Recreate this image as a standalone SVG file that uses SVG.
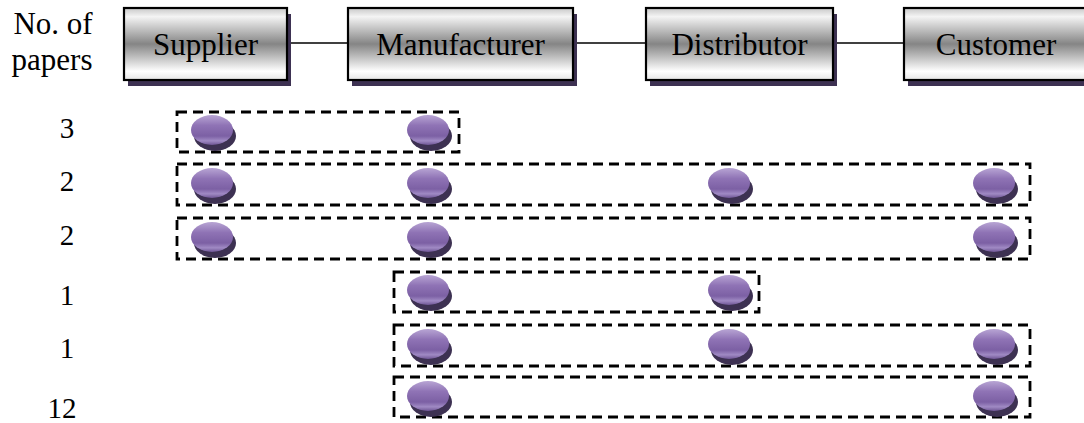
<svg xmlns="http://www.w3.org/2000/svg" xmlns:xlink="http://www.w3.org/1999/xlink" width="1084" height="423" viewBox="0 0 1084 423">
  <style>
    .lbl { font-family: "Liberation Serif", "Times New Roman", serif; fill: #000; }
    .hdr { font-size: 31px; text-anchor: middle; }
    .num { font-size: 29px; text-anchor: middle; }
    .axis { font-size: 31px; text-anchor: middle; }
    .box { fill: url(#boxGrad); stroke: #000; stroke-width: 2.2; }
    .shadow { fill: #3d3152; }
    .grp { fill: none; stroke: #000; stroke-width: 2.8; stroke-dasharray: 10 6; }
    .conn { stroke: #000; stroke-width: 1.6; fill: none; }
  </style>
  <defs>
    <linearGradient id="boxGrad" x1="0" y1="0" x2="0" y2="1">
      <stop offset="0" stop-color="#c8c8c8"/>
      <stop offset="0.12" stop-color="#f4f4f4"/>
      <stop offset="0.5" stop-color="#858585"/>
      <stop offset="0.88" stop-color="#ffffff"/>
      <stop offset="1" stop-color="#e6e6e6"/>
    </linearGradient>
    <linearGradient id="dotGrad" x1="0" y1="0" x2="0" y2="1">
      <stop offset="0" stop-color="#b8a5d4"/>
      <stop offset="0.35" stop-color="#8f73b5"/>
      <stop offset="0.7" stop-color="#7c60a4"/>
      <stop offset="0.86" stop-color="#a08ac4"/>
      <stop offset="1" stop-color="#6e5594"/>
    </linearGradient>
    <g id="dot">
      <ellipse cx="3" cy="6" rx="21" ry="15" fill="#3d3152"/>
      <ellipse cx="0" cy="0" rx="21" ry="15" fill="url(#dotGrad)"/>
    </g>
  </defs>

  <rect width="1084" height="423" fill="#ffffff"/>

  <g id="connectors">
    <line class="conn" x1="287" y1="43" x2="348" y2="43"/>
    <line class="conn" x1="573" y1="43" x2="645" y2="43"/>
    <line class="conn" x1="833" y1="43" x2="904" y2="43"/>
  </g>

  <g id="axis-label">
    <text class="lbl axis" x="53" y="34">No. of</text>
    <text class="lbl axis" x="52" y="70">papers</text>
  </g>

  <g id="supplier">
    <rect class="shadow" x="128" y="14" width="163" height="72"/>
    <rect class="box" x="124" y="8" width="163" height="72"/>
    <text class="lbl hdr" x="205.5" y="55">Supplier</text>
  </g>
  <g id="manufacturer">
    <rect class="shadow" x="352" y="14" width="225" height="72"/>
    <rect class="box" x="348" y="8" width="225" height="72"/>
    <text class="lbl hdr" x="460.5" y="55">Manufacturer</text>
  </g>
  <g id="distributor">
    <rect class="shadow" x="650" y="14" width="187" height="72"/>
    <rect class="box" x="646" y="8" width="187" height="72"/>
    <text class="lbl hdr" x="739.5" y="55">Distributor</text>
  </g>
  <g id="customer">
    <rect class="shadow" x="908" y="14" width="184" height="72"/>
    <rect class="box" x="904" y="8" width="184" height="72"/>
    <text class="lbl hdr" x="996" y="55">Customer</text>
  </g>

  <g id="row1">
    <text class="lbl num" x="67" y="138">3</text>
    <rect class="grp" x="177" y="112" width="282" height="40"/>
    <use xlink:href="#dot" href="#dot" x="212" y="130"/>
    <use xlink:href="#dot" href="#dot" x="428" y="130"/>
  </g>
  <g id="row2">
    <text class="lbl num" x="67" y="191">2</text>
    <rect class="grp" x="177" y="164" width="853" height="41"/>
    <use xlink:href="#dot" href="#dot" x="212" y="183"/>
    <use xlink:href="#dot" href="#dot" x="428" y="183"/>
    <use xlink:href="#dot" href="#dot" x="729" y="183"/>
    <use xlink:href="#dot" href="#dot" x="994" y="183"/>
  </g>
  <g id="row3">
    <text class="lbl num" x="67" y="245">2</text>
    <rect class="grp" x="177" y="218" width="853" height="41"/>
    <use xlink:href="#dot" href="#dot" x="212" y="237"/>
    <use xlink:href="#dot" href="#dot" x="428" y="237"/>
    <use xlink:href="#dot" href="#dot" x="994" y="237"/>
  </g>
  <g id="row4">
    <text class="lbl num" x="67" y="305">1</text>
    <rect class="grp" x="394" y="272" width="365" height="40"/>
    <use xlink:href="#dot" href="#dot" x="428" y="290"/>
    <use xlink:href="#dot" href="#dot" x="729" y="290"/>
  </g>
  <g id="row5">
    <text class="lbl num" x="67" y="358">1</text>
    <rect class="grp" x="394" y="325" width="636" height="41"/>
    <use xlink:href="#dot" href="#dot" x="428" y="344"/>
    <use xlink:href="#dot" href="#dot" x="729" y="344"/>
    <use xlink:href="#dot" href="#dot" x="994" y="344"/>
  </g>
  <g id="row6">
    <text class="lbl num" x="62" y="418">12</text>
    <rect class="grp" x="394" y="377" width="636" height="40"/>
    <use xlink:href="#dot" href="#dot" x="428" y="396"/>
    <use xlink:href="#dot" href="#dot" x="994" y="396"/>
  </g>
</svg>
